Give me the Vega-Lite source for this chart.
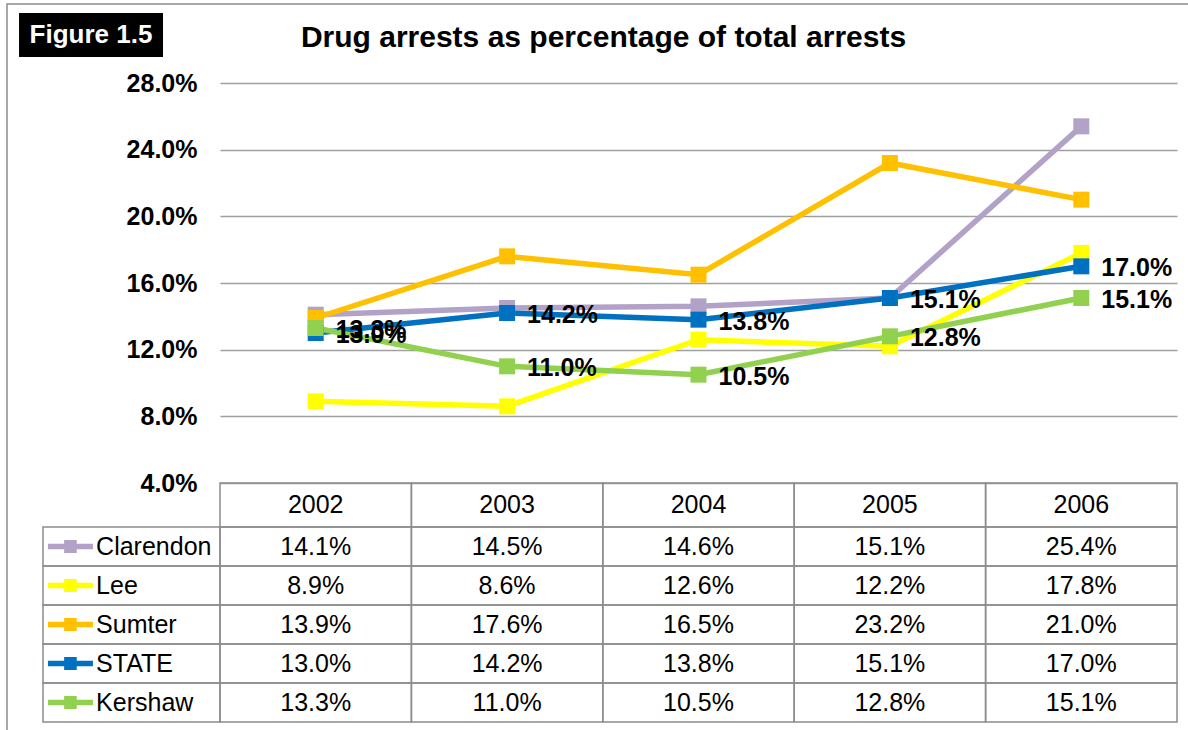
{
  "$schema": "https://vega.github.io/schema/vega-lite/v6.json",
  "width": 957,
  "height": 400,
  "autosize": {"type": "none"},
  "padding": {"left": 220, "top": 83, "right": 11, "bottom": 247},
  "background": "white",
  "config": {"view": {"stroke": null}, "font": "Liberation Sans"},
  "title": {
    "text": "Drug arrests as percentage of total arrests",
    "font": "Liberation Sans",
    "fontSize": 30,
    "fontWeight": "bold",
    "color": "#000000",
    "anchor": "middle",
    "frame": "group",
    "dx": -95,
    "offset": -50
  },
  "datasets": {
    "arrests": [
      {"series": "Clarendon", "year": "2002", "value": 0.141},
      {"series": "Clarendon", "year": "2003", "value": 0.145},
      {"series": "Clarendon", "year": "2004", "value": 0.146},
      {"series": "Clarendon", "year": "2005", "value": 0.151},
      {"series": "Clarendon", "year": "2006", "value": 0.254},
      {"series": "Lee", "year": "2002", "value": 0.089},
      {"series": "Lee", "year": "2003", "value": 0.086},
      {"series": "Lee", "year": "2004", "value": 0.126},
      {"series": "Lee", "year": "2005", "value": 0.122},
      {"series": "Lee", "year": "2006", "value": 0.178},
      {"series": "Sumter", "year": "2002", "value": 0.139},
      {"series": "Sumter", "year": "2003", "value": 0.176},
      {"series": "Sumter", "year": "2004", "value": 0.165},
      {"series": "Sumter", "year": "2005", "value": 0.232},
      {"series": "Sumter", "year": "2006", "value": 0.210},
      {"series": "STATE", "year": "2002", "value": 0.130},
      {"series": "STATE", "year": "2003", "value": 0.142},
      {"series": "STATE", "year": "2004", "value": 0.138},
      {"series": "STATE", "year": "2005", "value": 0.151},
      {"series": "STATE", "year": "2006", "value": 0.170},
      {"series": "Kershaw", "year": "2002", "value": 0.133},
      {"series": "Kershaw", "year": "2003", "value": 0.110},
      {"series": "Kershaw", "year": "2004", "value": 0.105},
      {"series": "Kershaw", "year": "2005", "value": 0.128},
      {"series": "Kershaw", "year": "2006", "value": 0.151}
    ]
  },
  "data": {"name": "arrests"},
  "resolve": {"scale": {"x": "independent", "y": "independent"}},
  "layer": [
    {
      "data": {"values": [{"frame": "page"}]},
      "mark": {"type": "rect", "fill": null, "stroke": "#8C8C8C", "strokeWidth": 1.5},
      "encoding": {
        "x": {"datum": 0, "type": "quantitative", "scale": {"domain": [0, 1], "range": [-213, 978], "nice": false, "zero": false}, "axis": null},
        "x2": {"datum": 1},
        "y": {"datum": 0, "type": "quantitative", "scale": {"domain": [0, 1], "range": [-79, 660], "nice": false, "zero": false}, "axis": null},
        "y2": {"datum": 1}
      }
    },
    {
      "data": {"values": [{"label": "Figure 1.5"}]},
      "mark": {"type": "rect", "fill": "#000000"},
      "encoding": {
        "x": {"datum": 0.0102, "type": "quantitative", "scale": {"domain": [0, 1], "range": [-213, 968], "nice": false, "zero": false}, "axis": null},
        "x2": {"datum": 0.1321},
        "y": {"datum": 0.0124, "type": "quantitative", "scale": {"domain": [0, 1], "range": [-79, 647], "nice": false, "zero": false}, "axis": null},
        "y2": {"datum": 0.0730}
      }
    },
    {
      "data": {"values": [{"label": "Figure 1.5"}]},
      "mark": {"type": "text", "color": "#FFFFFF", "fontWeight": "bold", "fontSize": 26, "font": "Liberation Sans", "align": "center", "baseline": "middle"},
      "encoding": {
        "text": {"field": "label"},
        "x": {"datum": 0.0711, "type": "quantitative", "scale": {"domain": [0, 1], "range": [-213, 968], "nice": false, "zero": false}, "axis": null},
        "y": {"datum": 0.0427, "type": "quantitative", "scale": {"domain": [0, 1], "range": [-79, 647], "nice": false, "zero": false}, "axis": null}
      }
    },
    {
      "mark": {"type": "line", "strokeWidth": 5.5},
      "encoding": {
        "x": {"field": "year", "type": "nominal", "scale": {"type": "point", "domain": ["2002", "2003", "2004", "2005", "2006"], "padding": 0.5}, "axis": null},
        "y": {
          "field": "value", "type": "quantitative",
          "scale": {"domain": [0.04, 0.28], "nice": false, "zero": false},
          "axis": {
            "values": [0.04, 0.08, 0.12, 0.16, 0.2, 0.24, 0.28],
            "format": ".1%",
            "title": null,
            "domain": false,
            "ticks": false,
            "labelFont": "Liberation Sans",
            "labelFontWeight": "bold",
            "labelFontSize": 25,
            "labelColor": "#000000",
            "labelPadding": 23,
            "grid": true,
            "gridColor": "#A0A0A0",
            "gridWidth": 1.5
          }
        },
        "color": {
          "field": "series", "type": "nominal",
          "scale": {"domain": ["Clarendon", "Lee", "Sumter", "STATE", "Kershaw"], "range": ["#B3A2C7", "#FFFF00", "#FFC000", "#0070C0", "#92D050"]},
          "legend": null
        },
        "order": {"field": "year"}
      }
    },
    {
      "mark": {"type": "point", "shape": "square", "filled": true, "size": 256, "opacity": 1},
      "encoding": {
        "x": {"field": "year", "type": "nominal", "scale": {"type": "point", "domain": ["2002", "2003", "2004", "2005", "2006"], "padding": 0.5}, "axis": null},
        "y": {"field": "value", "type": "quantitative", "scale": {"domain": [0.04, 0.28], "nice": false, "zero": false}, "axis": null},
        "color": {"field": "series", "type": "nominal", "legend": null}
      }
    },
    {
      "transform": [{"filter": {"field": "series", "oneOf": ["STATE", "Kershaw"]}}],
      "mark": {"type": "text", "align": "left", "baseline": "middle", "dx": 20, "dy": 2, "fontSize": 25, "fontWeight": "bold", "font": "Liberation Sans", "color": "#000000"},
      "encoding": {
        "x": {"field": "year", "type": "nominal", "scale": {"type": "point", "domain": ["2002", "2003", "2004", "2005", "2006"], "padding": 0.5}, "axis": null},
        "y": {"field": "value", "type": "quantitative", "scale": {"domain": [0.04, 0.28], "nice": false, "zero": false}, "axis": null},
        "text": {"field": "value", "type": "quantitative", "format": ".1%"}
      }
    },
    {
      "transform": [{"filter": {"field": "series", "equal": "Clarendon"}}],
      "mark": {"type": "rect", "fill": null, "stroke": "#8C8C8C", "strokeWidth": 1.5},
      "encoding": {
        "x": {"field": "year", "type": "nominal", "scale": {"type": "band", "domain": ["2002", "2003", "2004", "2005", "2006"], "paddingInner": 0, "paddingOuter": 0}, "axis": null},
        "y": {"datum": "header", "type": "nominal", "scale": {"type": "band", "domain": ["header"], "range": [400, 444], "paddingInner": 0, "paddingOuter": 0}, "axis": null}
      }
    },
    {
      "transform": [{"filter": {"field": "series", "equal": "Clarendon"}}],
      "mark": {"type": "text", "align": "center", "baseline": "middle", "fontSize": 25, "font": "Liberation Sans", "color": "#000000"},
      "encoding": {
        "text": {"field": "year"},
        "x": {"field": "year", "type": "nominal", "scale": {"type": "band", "domain": ["2002", "2003", "2004", "2005", "2006"], "paddingInner": 0, "paddingOuter": 0}, "axis": null},
        "y": {"datum": "header", "type": "nominal", "scale": {"type": "band", "domain": ["header"], "range": [400, 444], "paddingInner": 0, "paddingOuter": 0}, "axis": null}
      }
    },
    {
      "mark": {"type": "rect", "fill": null, "stroke": "#8C8C8C", "strokeWidth": 1.5},
      "encoding": {
        "x": {"field": "year", "type": "nominal", "scale": {"type": "band", "domain": ["2002", "2003", "2004", "2005", "2006"], "paddingInner": 0, "paddingOuter": 0}, "axis": null},
        "y": {"field": "series", "type": "nominal", "scale": {"type": "band", "domain": ["Clarendon", "Lee", "Sumter", "STATE", "Kershaw"], "range": [444, 639], "paddingInner": 0, "paddingOuter": 0}, "axis": null}
      }
    },
    {
      "mark": {"type": "text", "align": "center", "baseline": "middle", "fontSize": 25, "font": "Liberation Sans", "color": "#000000"},
      "encoding": {
        "text": {"field": "value", "type": "quantitative", "format": ".1%"},
        "x": {"field": "year", "type": "nominal", "scale": {"type": "band", "domain": ["2002", "2003", "2004", "2005", "2006"], "paddingInner": 0, "paddingOuter": 0}, "axis": null},
        "y": {"field": "series", "type": "nominal", "scale": {"type": "band", "domain": ["Clarendon", "Lee", "Sumter", "STATE", "Kershaw"], "range": [444, 639], "paddingInner": 0, "paddingOuter": 0}, "axis": null}
      }
    },
    {
      "transform": [{"filter": {"field": "year", "equal": "2002"}}],
      "mark": {"type": "rect", "fill": null, "stroke": "#8C8C8C", "strokeWidth": 1.5},
      "encoding": {
        "x": {"datum": "legend", "type": "nominal", "scale": {"type": "band", "domain": ["legend"], "range": [-177, 0], "paddingInner": 0, "paddingOuter": 0}, "axis": null},
        "y": {"field": "series", "type": "nominal", "scale": {"type": "band", "domain": ["Clarendon", "Lee", "Sumter", "STATE", "Kershaw"], "range": [444, 639], "paddingInner": 0, "paddingOuter": 0}, "axis": null}
      }
    },
    {
      "transform": [{"filter": {"field": "year", "equal": "2002"}}],
      "mark": {"type": "point", "filled": true, "opacity": 1, "size": 2025, "strokeWidth": 0, "shape": "M-1,-0.12L1,-0.12L1,0.12L-1,0.12Z M-0.28,-0.29L0.28,-0.29L0.28,0.29L-0.28,0.29Z"},
      "encoding": {
        "x": {"datum": "legend", "type": "nominal", "bandPosition": 0.155, "scale": {"type": "band", "domain": ["legend"], "range": [-177, 0], "paddingInner": 0, "paddingOuter": 0}, "axis": null},
        "y": {"field": "series", "type": "nominal", "scale": {"type": "band", "domain": ["Clarendon", "Lee", "Sumter", "STATE", "Kershaw"], "range": [444, 639], "paddingInner": 0, "paddingOuter": 0}, "axis": null},
        "color": {"field": "series", "type": "nominal", "legend": null}
      }
    },
    {
      "transform": [{"filter": {"field": "year", "equal": "2002"}}],
      "mark": {"type": "text", "align": "left", "baseline": "middle", "fontSize": 25, "font": "Liberation Sans", "color": "#000000"},
      "encoding": {
        "text": {"field": "series"},
        "x": {"datum": "legend", "type": "nominal", "bandPosition": 0.3, "scale": {"type": "band", "domain": ["legend"], "range": [-177, 0], "paddingInner": 0, "paddingOuter": 0}, "axis": null},
        "y": {"field": "series", "type": "nominal", "scale": {"type": "band", "domain": ["Clarendon", "Lee", "Sumter", "STATE", "Kershaw"], "range": [444, 639], "paddingInner": 0, "paddingOuter": 0}, "axis": null}
      }
    }
  ]
}
